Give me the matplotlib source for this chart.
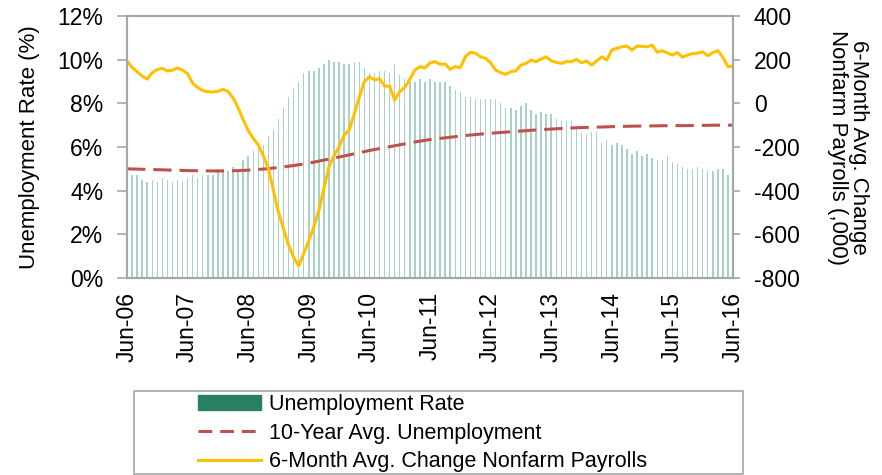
import matplotlib.pyplot as plt
from matplotlib.patches import Patch, Rectangle
from matplotlib.lines import Line2D

plt.rcParams['font.family'] = ['Liberation Sans', 'DejaVu Sans']
plt.rcParams['axes.unicode_minus'] = False

# monthly data, Jun-06 .. Jun-16
unemployment = [
    4.6, 4.7, 4.7, 4.5, 4.4, 4.5, 4.4,
    4.6, 4.5, 4.4, 4.5, 4.4, 4.6, 4.7, 4.6, 4.7, 4.7, 4.7, 5.0,
    5.0, 4.9, 5.1, 5.0, 5.4, 5.6, 5.8, 6.1, 6.1, 6.5, 6.8, 7.3,
    7.8, 8.3, 8.7, 9.0, 9.4, 9.5, 9.5, 9.6, 9.8, 10.0, 9.9, 9.9,
    9.8, 9.8, 9.9, 9.9, 9.6, 9.4, 9.4, 9.5, 9.5, 9.4, 9.8, 9.3,
    9.1, 9.0, 9.0, 9.1, 9.0, 9.1, 9.0, 9.0, 9.0, 8.8, 8.6, 8.5,
    8.3, 8.3, 8.2, 8.2, 8.2, 8.2, 8.2, 8.0, 7.8, 7.8, 7.7, 7.9,
    8.0, 7.7, 7.5, 7.6, 7.5, 7.5, 7.3, 7.2, 7.2, 7.2, 6.9, 6.7,
    6.6, 6.7, 6.7, 6.2, 6.3, 6.1, 6.2, 6.1, 5.9, 5.7, 5.8, 5.6,
    5.7, 5.5, 5.4, 5.4, 5.6, 5.3, 5.2, 5.1, 5.0, 5.0, 5.1, 5.0,
    4.9, 4.9, 5.0, 5.0, 4.7, 4.9,
]

payrolls = [
    194, 165, 145, 125, 111, 140, 155, 160, 148, 152, 162, 152,
    136, 92, 72, 58, 53, 52, 55, 64, 55, 25, -20, -75,
    -125, -160, -190, -240, -300, -400, -500, -575, -650, -705, -745, -687,
    -630, -565, -489, -390, -290, -240, -200, -145, -122, -50, 30, 99,
    122, 107, 113, 79, 79, 15, 53, 73, 110, 152, 168, 162,
    185, 191, 179, 180, 156, 168, 163, 213, 234, 230, 213, 206,
    186, 152, 140, 133, 145, 149, 175, 183, 198, 191, 203, 213,
    195, 188, 183, 191, 191, 201, 186, 194, 175, 194, 213, 198,
    244, 252, 259, 262, 244, 262, 261, 259, 267, 234, 241, 231,
    221, 232, 211, 221, 228, 230, 236, 218, 232, 241, 211, 168,
    171,
]

# 10-year average, read every 3 months
avg_months = list(range(0, 121, 3))
avg_unemp = [
    5.00, 4.98, 4.96, 4.94, 4.92, 4.91, 4.90, 4.91, 4.94, 4.99,
    5.06, 5.15, 5.26, 5.40, 5.54, 5.69, 5.84, 5.97, 6.10, 6.23,
    6.34, 6.42, 6.50, 6.57, 6.63, 6.68, 6.73, 6.78, 6.82, 6.86,
    6.89, 6.91, 6.93, 6.95, 6.96, 6.97, 6.98, 6.98, 6.99, 7.00,
    7.00,
]

tick_labels = ['Jun-06', 'Jun-07', 'Jun-08', 'Jun-09', 'Jun-10', 'Jun-11',
               'Jun-12', 'Jun-13', 'Jun-14', 'Jun-15', 'Jun-16']

months = list(range(len(unemployment)))
gray = '#a6a6a6'

fig = plt.figure(figsize=(8.82, 4.75), dpi=100)
ax = fig.add_axes([127 / 882, 1 - 278 / 475, 606 / 882, 262 / 475])
ax2 = ax.twinx()

ax.bar(months, unemployment, width=0.28, color='#a8d2c5', zorder=1)
ax.plot(avg_months, avg_unemp, color='#c0504d', lw=2.2, dashes=(6, 2.6), zorder=2)
ax2.plot(months, payrolls, color='#ffc000', lw=2.2)

ax.set_xlim(0, 120)
ax.set_ylim(0, 12)
ax.set_yticks(range(0, 13, 2))
ax.set_yticklabels([f'{v}%' for v in range(0, 13, 2)])
ax.set_xticks(range(0, 121, 12))
ax.set_xticklabels(tick_labels, rotation=90)
ax2.set_ylim(-800, 400)
ax2.set_yticks(range(-800, 401, 200))

for a in (ax, ax2):
    for s in a.spines.values():
        s.set_color(gray)
        s.set_linewidth(1.5)
ax.tick_params(axis='y', length=7, width=1.2, color=gray, pad=10, labelsize=16.5)
ax.tick_params(axis='x', length=0, pad=10, labelsize=16.5)
ax2.tick_params(axis='y', length=5, width=1.2, color=gray, pad=10, labelsize=16.5)

ax.set_ylabel('Unemployment Rate (%)', fontsize=16)
ax.yaxis.set_label_coords(-0.1436, 0.5)
ax2.set_ylabel('6-Month Avg. Change\nNonfarm Payrolls (,000)', fontsize=16,
               rotation=270, va='bottom', linespacing=1.0)
ax2.yaxis.set_label_coords(1.155, 0.5)

# legend box
fig.patches.append(Rectangle((134 / 882, 1 - 474 / 475), (743 - 134) / 882, 83 / 475,
                             transform=fig.transFigure, fill=False,
                             edgecolor=gray, lw=1.2))
handles = [
    Patch(color='#2a7f62'),
    Line2D([], [], color='#c0504d', lw=2.2, dashes=(4.5, 2.6)),
    Line2D([], [], color='#ffc000', lw=2.2),
]
labels = ['Unemployment Rate', '10-Year Avg. Unemployment',
          '6-Month Avg. Change Nonfarm Payrolls']
fig.legend(handles, labels, loc='upper left',
           bbox_to_anchor=(195 / 882, 1 - 391 / 475), frameon=False,
           fontsize=15.5, handlelength=2.93, handletextpad=0.37,
           labelspacing=0.35, borderaxespad=0, borderpad=0.15)

fig.savefig('out.png', dpi=100)
